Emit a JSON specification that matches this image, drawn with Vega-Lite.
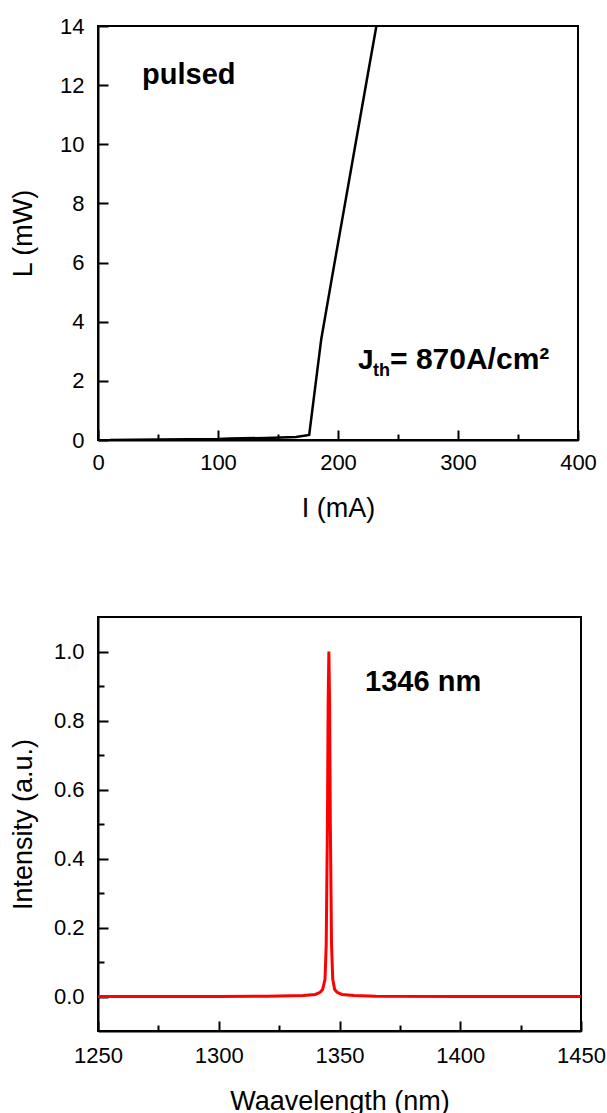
{
  "$schema": "https://vega.github.io/schema/vega-lite/v6.json",
  "padding": {"left": 8, "top": 14, "right": 5, "bottom": 0},
  "background": "white",
  "spacing": 94,
  "config": {
    "font": "Liberation Sans",
    "view": {"stroke": "black", "strokeWidth": 2},
    "axis": {
      "domainColor": "black",
      "domainWidth": 2,
      "tickColor": "black",
      "tickWidth": 2,
      "grid": false,
      "labelFlush": false,
      "labelFont": "Liberation Sans",
      "labelFontSize": 22,
      "labelColor": "black",
      "titleFont": "Liberation Sans",
      "titleFontSize": 27,
      "titleFontWeight": "normal",
      "titleColor": "black"
    }
  },
  "datasets": {
    "li": [
      {"I": 10, "L": 0.0},
      {"I": 50, "L": 0.02},
      {"I": 100, "L": 0.03},
      {"I": 110, "L": 0.05},
      {"I": 140, "L": 0.07},
      {"I": 165, "L": 0.1},
      {"I": 176, "L": 0.17},
      {"I": 186, "L": 3.4},
      {"I": 195, "L": 5.5},
      {"I": 205, "L": 7.8},
      {"I": 215, "L": 10.1},
      {"I": 225, "L": 12.4},
      {"I": 232, "L": 14.0},
      {"I": 236, "L": 15.0}
    ],
    "spec": [
      {"wl": 1250, "int": 0.0},
      {"wl": 1300, "int": 0.0},
      {"wl": 1320, "int": 0.001},
      {"wl": 1335, "int": 0.003},
      {"wl": 1340, "int": 0.006},
      {"wl": 1342, "int": 0.012},
      {"wl": 1343, "int": 0.02},
      {"wl": 1344, "int": 0.05},
      {"wl": 1344.5, "int": 0.15},
      {"wl": 1345, "int": 0.5},
      {"wl": 1345.3, "int": 0.85},
      {"wl": 1345.6, "int": 1.0},
      {"wl": 1345.9, "int": 0.85},
      {"wl": 1346.2, "int": 0.5},
      {"wl": 1346.7, "int": 0.15},
      {"wl": 1347.2, "int": 0.05},
      {"wl": 1348, "int": 0.02},
      {"wl": 1349, "int": 0.012},
      {"wl": 1351, "int": 0.006},
      {"wl": 1356, "int": 0.003},
      {"wl": 1365, "int": 0.001},
      {"wl": 1400, "int": 0.0},
      {"wl": 1450, "int": 0.0}
    ],
    "ann1": [{"I": 36.7, "L": 12.04, "t": "pulsed"}],
    "ann2": [{"I": 216.7, "L": 2.4, "j": "J", "sub": "th", "rest": "= 870A/cm²"}],
    "ann3": [{"wl": 1360.6, "int": 0.886, "t": "1346 nm"}]
  },
  "vconcat": [
    {
      "width": 480,
      "height": 414,
      "layer": [
        {
          "data": {"name": "li"},
          "mark": {"type": "line", "color": "black", "strokeWidth": 2.5, "clip": true},
          "encoding": {
            "x": {
              "field": "I", "type": "quantitative",
              "scale": {"domain": [0, 400], "nice": false},
              "axis": {
                "title": "I (mA)",
                "values": [0, 50, 100, 150, 200, 250, 300, 350, 400],
                "labelExpr": "datum.value % 100 === 0 ? datum.label : ''",
                "tickSize": {"expr": "datum.value % 100 === 0 ? -10 : -6"},
                "labelPadding": 22,
                "titlePadding": 22
              }
            },
            "y": {
              "field": "L", "type": "quantitative",
              "scale": {"domain": [0, 14], "nice": false},
              "axis": {
                "title": "L (mW)",
                "values": [0, 1, 2, 3, 4, 5, 6, 7, 8, 9, 10, 11, 12, 13, 14],
                "labelExpr": "datum.value % 2 === 0 ? datum.label : ''",
                "tickSize": {"expr": "datum.value % 2 === 0 ? -10 : -6"},
                "labelPadding": 24,
                "titlePadding": 22
              }
            }
          }
        },
        {
          "data": {"name": "ann1"},
          "mark": {"type": "text", "font": "Liberation Sans", "fontWeight": "bold", "fontSize": 29, "align": "left", "baseline": "alphabetic", "color": "black"},
          "encoding": {
            "x": {"field": "I", "type": "quantitative"},
            "y": {"field": "L", "type": "quantitative"},
            "text": {"field": "t"}
          }
        },
        {
          "data": {"name": "ann2"},
          "mark": {"type": "text", "font": "Liberation Sans", "fontWeight": "bold", "fontSize": 28, "align": "left", "baseline": "alphabetic", "color": "black"},
          "encoding": {
            "x": {"field": "I", "type": "quantitative"},
            "y": {"field": "L", "type": "quantitative"},
            "text": {"field": "j"}
          }
        },
        {
          "data": {"name": "ann2"},
          "mark": {"type": "text", "font": "Liberation Sans", "fontWeight": "bold", "fontSize": 18, "align": "left", "baseline": "alphabetic", "color": "black", "dx": 15, "dy": 7},
          "encoding": {
            "x": {"field": "I", "type": "quantitative"},
            "y": {"field": "L", "type": "quantitative"},
            "text": {"field": "sub"}
          }
        },
        {
          "data": {"name": "ann2"},
          "mark": {"type": "text", "font": "Liberation Sans", "fontWeight": "bold", "fontSize": 30, "align": "left", "baseline": "alphabetic", "color": "black", "dx": 32},
          "encoding": {
            "x": {"field": "I", "type": "quantitative"},
            "y": {"field": "L", "type": "quantitative"},
            "text": {"field": "rest"}
          }
        }
      ]
    },
    {
      "width": 483,
      "height": 414,
      "layer": [
        {
          "data": {"name": "spec"},
          "mark": {"type": "line", "color": "#ff0000", "strokeWidth": 3, "clip": true},
          "encoding": {
            "x": {
              "field": "wl", "type": "quantitative",
              "scale": {"domain": [1250, 1450], "nice": false},
              "axis": {
                "title": "Waavelength (nm)",
                "values": [1250, 1275, 1300, 1325, 1350, 1375, 1400, 1425, 1450],
                "labelExpr": "datum.value % 50 === 0 ? datum.label : ''",
                "format": "d",
                "tickSize": {"expr": "datum.value % 50 === 0 ? -10 : -6"},
                "labelPadding": 24,
                "titlePadding": 22
              }
            },
            "y": {
              "field": "int", "type": "quantitative",
              "scale": {"domain": [-0.1, 1.1], "nice": false, "zero": false},
              "axis": {
                "title": "Intensity (a.u.)",
                "values": [0, 0.1, 0.2, 0.3, 0.4, 0.5, 0.6, 0.7, 0.8, 0.9, 1.0],
                "format": ".1f",
                "labelExpr": "round(datum.value * 10) % 2 === 0 ? datum.label : ''",
                "tickSize": {"expr": "round(datum.value * 10) % 2 === 0 ? -10 : -6"},
                "labelPadding": 24,
                "titlePadding": 16
              }
            }
          }
        },
        {
          "data": {"name": "ann3"},
          "mark": {"type": "text", "font": "Liberation Sans", "fontWeight": "bold", "fontSize": 29, "align": "left", "baseline": "alphabetic", "color": "black"},
          "encoding": {
            "x": {"field": "wl", "type": "quantitative"},
            "y": {"field": "int", "type": "quantitative"},
            "text": {"field": "t"}
          }
        }
      ]
    }
  ]
}
